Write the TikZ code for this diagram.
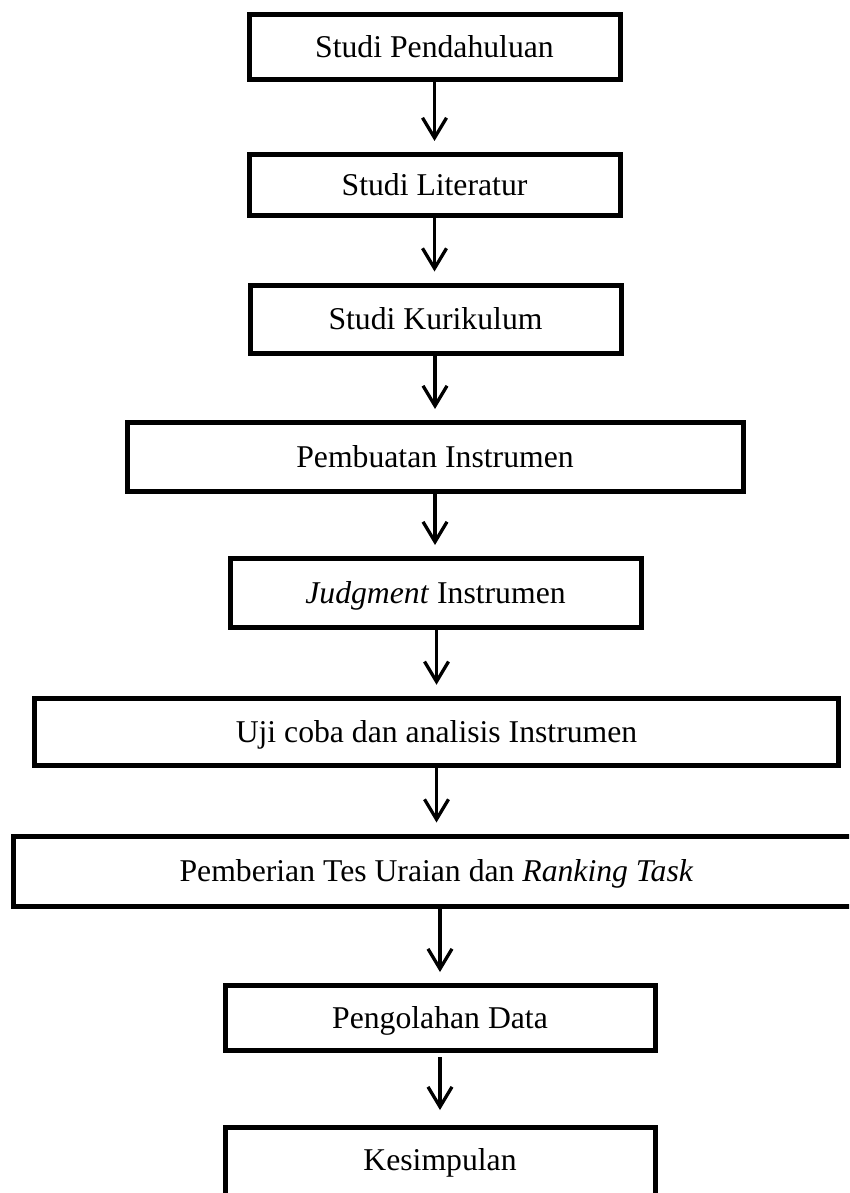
\documentclass[tikz,border=0pt]{standalone}
\usepackage{fontspec}
\setmainfont{Liberation Serif}
\usetikzlibrary{arrows.meta}
\begin{document}
\begin{tikzpicture}[x=1pt,y=-1pt,
  stepbox/.style={draw=black, line width=5pt, rectangle, inner sep=0pt,
    font=\fontsize{31.7}{38}\selectfont, text height=21pt, text depth=0pt,
    align=center},
  arr/.style={line width=3.3pt, -{Straight Barb[length=20pt,width=24pt,line width=3.3pt]}, shorten >=11pt}
]
\clip (0,0) rectangle (849,1193);
\fill[white] (0,0) rectangle (849,1193);
\node[stepbox, minimum width=371pt, minimum height=65pt] (b1) at (434.5,47.5) {Studi Pendahuluan};
\node[stepbox, minimum width=371pt, minimum height=61pt] (b2) at (434.5,185) {Studi Literatur};
\node[stepbox, minimum width=371pt, minimum height=68pt] (b3) at (435.5,319) {Studi Kurikulum};
\node[stepbox, minimum width=616pt, minimum height=69pt] (b4) at (435,457) {Pembuatan Instrumen};
\node[stepbox, minimum width=411pt, minimum height=69pt] (b5) at (435.5,593) {\textit{Judgment} Instrumen};
\node[stepbox, minimum width=804pt, minimum height=67.5pt] (b6) at (436.5,732) {Uji coba dan analisis Instrumen};
\node[stepbox, minimum width=847pt, minimum height=70pt] (b7) at (436.5,871) {Pemberian Tes Uraian dan \textit{Ranking Task}};
\node[stepbox, minimum width=430pt, minimum height=65pt] (b8) at (440,1018) {Pengolahan Data};
\node[stepbox, minimum width=430pt, minimum height=100pt, text height=21pt] (b9) at (440,1177.5) {};
\node[font=\fontsize{31.7}{38}\selectfont, text height=21pt, text depth=0pt, inner sep=0pt] (t9) at (440,1160) {Kesimpulan};
\draw[arr] (b1.south) -- (b1.south |- b2.north);
\draw[arr] (b2.south) -- (b2.south |- b3.north);
\draw[arr] (b3.south -| b4) -- (b4.north);
\draw[arr] (b4.south) -- (b4.south |- b5.north);
\draw[arr] (b5.south -| b6) -- (b6.north);
\draw[arr] (b6.south) -- (b6.south |- b7.north);
\draw[arr] (b7.south -| b8) -- (b8.north);
\draw[arr, shorten <=4pt, shorten >=15pt] (b8.south) -- (b9.north);
\end{tikzpicture}
\end{document}
